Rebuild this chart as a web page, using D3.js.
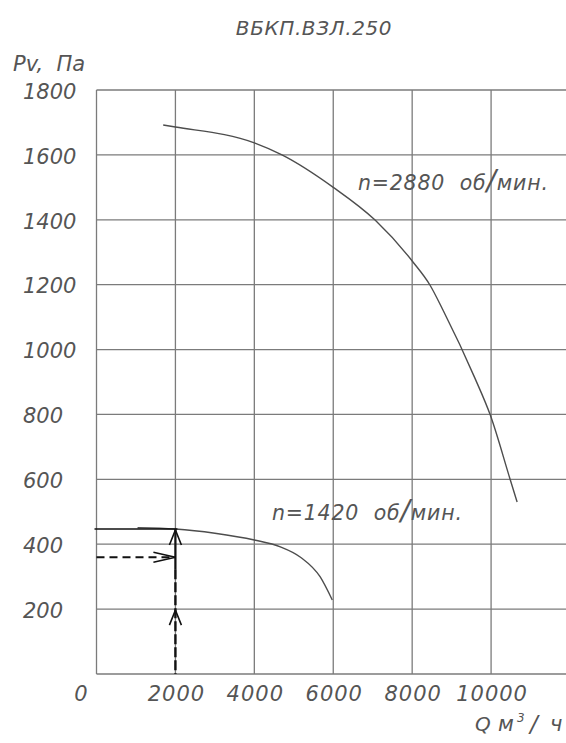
<!DOCTYPE html>
<html>
<head>
<meta charset="utf-8">
<script src="https://cdn.jsdelivr.net/npm/d3@7"></script>
<style>
  body { margin: 0; background: #fff; }
  svg text { font-family: "DejaVu Sans", sans-serif; font-style: italic; fill: #555; }
</style>
</head>
<body>
<svg id="chart" width="566" height="743"></svg>
<script>
// ---- data ----
var chartTitle = 'ВБКП.ВЗЛ.250';
var xTicks = [0, 2000, 4000, 6000, 8000, 10000];
var xGrid = [2000, 4000, 6000, 8000, 10000];
var yTicks = [200, 400, 600, 800, 1000, 1200, 1400, 1600, 1800];

// n = 2880 rpm
var q2880 = [1690, 2000, 4000, 4700, 6000, 7060, 8020, 8450, 8780, 9590, 9980, 10480, 10660];
var p2880 = [1692, 1686, 1637, 1600, 1500, 1399, 1270, 1199, 1122, 912, 798, 601, 530];

// n = 1420 rpm
var q1420 = [1040, 2000, 3000, 4000, 4660, 5170, 5670, 5975];
var p1420 = [451, 447, 434, 413, 392, 360, 299, 228];

// working point lines
var opQ = 2000, opP = 447, opPdyn = 360;

(function() {
  'use strict';
  var svg = d3.select('#chart');

  var x = d3.scaleLinear().domain([0, 12000]).range([96.5, 570]);
  var y = d3.scaleLinear().domain([0, 1800]).range([674, 90]);

  var grid = svg.append('g')
    .attr('stroke', '#7b7b7b')
    .attr('stroke-width', 1.3)
    .attr('fill', 'none');

  // horizontal lines (incl. bottom axis)
  grid.selectAll('line.h')
    .data([0].concat(yTicks))
    .enter().append('line')
    .attr('class', 'h')
    .attr('x1', x(0)).attr('x2', 566)
    .attr('y1', function(d) { return y(d); })
    .attr('y2', function(d) { return y(d); });

  // vertical lines (incl. left axis)
  grid.selectAll('line.v')
    .data([0].concat(xGrid))
    .enter().append('line')
    .attr('class', 'v')
    .attr('x1', function(d) { return x(d); })
    .attr('x2', function(d) { return x(d); })
    .attr('y1', y(1800)).attr('y2', y(0));

  // tick labels
  svg.append('g').selectAll('text')
    .data(yTicks)
    .enter().append('text')
    .attr('x', 23)
    .attr('y', function(d) { return y(d); })
    .attr('dy', '0.42em')
    .style('font-size', '21px')
    .text(function(d) { return d; });

  svg.append('g').selectAll('text')
    .data(xTicks)
    .enter().append('text')
    .attr('x', function(d) { return d === 0 ? x(d) - 15 : x(d) + 1; })
    .attr('y', 693)
    .attr('dy', '0.36em')
    .attr('text-anchor', 'middle')
    .style('font-size', '21px')
    .style('letter-spacing', '1px')
    .text(function(d) { return d; });

  // titles
  svg.append('text')
    .attr('x', 314).attr('y', 28).attr('dy', '0.36em')
    .attr('text-anchor', 'middle')
    .style('font-size', '20px')
    .style('letter-spacing', '0.6px')
    .text(chartTitle);

  svg.append('text')
    .attr('x', 13).attr('y', 63).attr('dy', '0.36em')
    .attr('xml:space', 'preserve')
    .style('font-size', '21px')
    .text('Pv,  Па');

  // Q, m3/h label, pieces placed one by one
  var qParts = [
    { t: 'Q', x: 475, y: 731, s: 20 },
    { t: 'м', x: 498, y: 731, s: 21 },
    { t: '3', x: 517, y: 722, s: 12 },
    { t: '/', x: 530, y: 732, s: 23 },
    { t: 'ч', x: 550, y: 731, s: 21 }
  ];
  svg.append('g').selectAll('text')
    .data(qParts)
    .enter().append('text')
    .attr('x', function(d) { return d.x; })
    .attr('y', function(d) { return d.y; })
    .style('font-size', function(d) { return d.s + 'px'; })
    .text(function(d) { return d.t; });

  // curves (y as a function of x, so uneven spacing of points is fine)
  var line = d3.line()
    .x(function(d) { return x(d[0]); })
    .y(function(d) { return y(d[1]); })
    .curve(d3.curveMonotoneX);

  var curves = [d3.zip(q2880, p2880), d3.zip(q1420, p1420)];
  svg.append('g').selectAll('path')
    .data(curves)
    .enter().append('path')
    .attr('d', line)
    .attr('fill', 'none')
    .attr('stroke', '#4d4d4d')
    .attr('stroke-width', 1.4);

  var speedLabel = function(px, py, n) {
    var t = svg.append('text')
      .attr('x', px).attr('y', py).attr('dy', '0.36em')
      .style('font-size', '20.5px')
      .style('letter-spacing', '0.8px')
      .attr('xml:space', 'preserve');
    t.append('tspan').text('n=' + n + '  об');
    t.append('tspan').style('font-size', '28px').text('/');
    t.append('tspan').text('мин.');
  };
  speedLabel(358, 183, 2880);
  speedLabel(272, 513, 1420);

  // working point: lines and arrows
  var op = svg.append('g').attr('stroke', '#111').attr('fill', 'none');

  op.append('line')
    .attr('x1', x(0) - 2).attr('x2', x(opQ) + 2)
    .attr('y1', y(opP)).attr('y2', y(opP))
    .attr('stroke-width', 1.6);

  op.append('line')
    .attr('x1', x(0)).attr('x2', x(opQ))
    .attr('y1', y(opPdyn)).attr('y2', y(opPdyn))
    .attr('stroke-width', 2)
    .attr('stroke-dasharray', '8,5');

  op.append('line')
    .attr('x1', x(opQ)).attr('x2', x(opQ))
    .attr('y1', y(opP)).attr('y2', y(opPdyn) + 12)
    .attr('stroke-width', 2.2);

  op.append('line')
    .attr('x1', x(opQ)).attr('x2', x(opQ))
    .attr('y1', y(opPdyn) + 12).attr('y2', y(0))
    .attr('stroke-width', 2.4)
    .attr('stroke-dasharray', '10,3');

  var upArrow = function(px, py) {
    op.append('path')
      .attr('d', 'M' + (px - 6) + ',' + (py + 15) + 'L' + px + ',' + py + 'L' + (px + 6) + ',' + (py + 15))
      .attr('stroke-width', 1.6);
  };
  upArrow(x(opQ), y(opP) + 1);
  upArrow(x(opQ), y(200) + 1);

  op.append('path')
    .attr('d', 'M' + (x(opQ) - 22) + ',' + (y(opPdyn) - 5) + 'L' + x(opQ) + ',' + y(opPdyn) +
      'L' + (x(opQ) - 22) + ',' + (y(opPdyn) + 5))
    .attr('stroke-width', 1.6);
})();
</script>
</body>
</html>
